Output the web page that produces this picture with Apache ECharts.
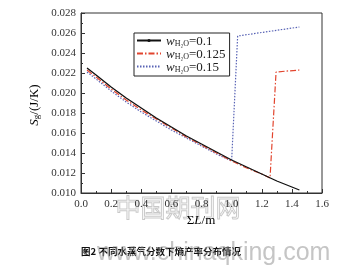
<!DOCTYPE html>
<html>
<head>
<meta charset="utf-8">
<script src="https://cdn.jsdelivr.net/npm/echarts@6/dist/echarts.min.js"></script>
<style>
html,body{margin:0;padding:0;background:#fff;}
#c{width:343px;height:267px;}
</style>
</head>
<body>
<div id="c"></div>
<script>
// ---- data ----
var xTicks = [0.0, 0.2, 0.4, 0.6, 0.8, 1.0, 1.2, 1.4, 1.6];
var yTicks = [0.010, 0.012, 0.014, 0.016, 0.018, 0.020, 0.022, 0.024, 0.026, 0.028];

var L1 = [0.04, 0.1, 0.2, 0.3, 0.4, 0.5, 0.6, 0.7, 0.8, 0.9, 1.0, 1.1, 1.2, 1.3, 1.4, 1.45];
var S1 = [0.0225, 0.0218, 0.0206, 0.0195, 0.0185, 0.0175, 0.0166, 0.0157, 0.0149, 0.0141, 0.0133, 0.0126, 0.0119, 0.0112, 0.0106, 0.0103];

var L2 = [0.04, 0.1, 0.2, 0.3, 0.4, 0.5, 0.6, 0.7, 0.8, 0.9, 1.0, 1.1, 1.2, 1.255, 1.295, 1.45];
var S2 = [0.0223, 0.0216, 0.0204, 0.0193, 0.0183, 0.0174, 0.0165, 0.0156, 0.0148, 0.0140, 0.0132, 0.0125, 0.0119, 0.0115, 0.0221, 0.0223];

var L3 = [0.04, 0.1, 0.2, 0.3, 0.4, 0.5, 0.6, 0.7, 0.8, 0.9, 1.0, 1.04, 1.45];
var S3 = [0.0221, 0.0214, 0.0202, 0.0191, 0.0181, 0.0172, 0.0163, 0.0155, 0.0147, 0.0139, 0.0132, 0.0257, 0.0266];

var seriesNames = ['0.1', '0.125', '0.15'];
var caption = '图2 不同水蒸气分数下熵产率分布情况';

function pairs(xs, ys){ return xs.map(function(x,i){ return [x, ys[i]]; }); }

var serif = '"Liberation Serif","DejaVu Serif",serif';
var chart = echarts.init(document.getElementById('c'), null, {renderer:'canvas'});

var legendRich = {
  i:{fontFamily:serif, fontStyle:'italic', fontSize:13, color:'#222', lineHeight:15, verticalAlign:'bottom'},
  s:{fontFamily:serif, fontSize:8, color:'#222', lineHeight:15, verticalAlign:'bottom', padding:[4,0,0,0]},
  n:{fontFamily:serif, fontSize:13, color:'#222', lineHeight:15, verticalAlign:'bottom'}
};

chart.setOption({
  animation:false,
  backgroundColor:'#fff',
  grid:{left:81, right:21, top:13, bottom:74, show:true, borderColor:'#333', borderWidth:1, backgroundColor:'transparent'},
  xAxis:{
    type:'value', min:0, max:1.6, interval:0.2,
    axisLine:{lineStyle:{color:'#333', width:1}},
    axisTick:{inside:true, length:4, lineStyle:{color:'#333'}},
    minorTick:{show:true, splitNumber:2, length:2, lineStyle:{color:'#333'}},
    splitLine:{show:false},
    axisLabel:{fontFamily:serif, fontSize:11, color:'#333', margin:6, formatter:function(v){return v.toFixed(1);}}
  },
  yAxis:{
    type:'value', min:0.010, max:0.028, interval:0.002,
    axisLine:{show:true, lineStyle:{color:'#333', width:1}},
    axisTick:{show:true, inside:true, length:4, lineStyle:{color:'#333'}},
    minorTick:{show:true, splitNumber:2, length:2, lineStyle:{color:'#333'}},
    splitLine:{show:false},
    axisLabel:{fontFamily:serif, fontSize:11, color:'#333', margin:5, formatter:function(v){return v.toFixed(3);}}
  },
  legend:{
    orient:'vertical', left:134, top:33,
    itemWidth:24, itemHeight:4, itemGap:0,
    padding:[2,4,2,2],
    borderColor:'#222', borderWidth:1,
    data:[
      {name:seriesNames[0]},
      {name:seriesNames[1], itemStyle:{opacity:0}},
      {name:seriesNames[2], itemStyle:{opacity:0}}
    ],
    formatter:function(n){ return '{i|w}{s|H₂O}{n|=' + n + '}'; },
    textStyle:{rich:legendRich}
  },
  series:[
    {name:seriesNames[0], type:'line', data:pairs(L1,S1), symbol:'circle', symbolSize:3, showSymbol:false,
     lineStyle:{color:'#111', width:1.3}, itemStyle:{color:'#111'}, z:3},
    {name:seriesNames[1], type:'line', data:pairs(L2,S2), symbol:'none',
     lineStyle:{color:'#e2452e', width:1.2, type:[6,2,1.5,2]}, itemStyle:{color:'#e2452e'}, z:2},
    {name:seriesNames[2], type:'line', data:pairs(L3,S3), symbol:'none',
     lineStyle:{color:'#5863b5', width:1.2, type:[1.5,1.5]}, itemStyle:{color:'#5863b5'}, z:1}
  ],
  graphic:[
    {type:'text', left:115, top:194, z:0, silent:true,
     style:{text:'中国期刊网', font:'25px "Noto Sans CJK SC"', fill:'rgba(255,255,255,0)', stroke:'rgba(120,120,120,0.4)', lineWidth:1}},
    {type:'text', x:33, y:105, rotation:Math.PI/2, silent:true,
     style:{text:'{a|S}{b|g}{c|/(J/K)}', textAlign:'center', textVerticalAlign:'middle',
       rich:{a:{fontFamily:serif, fontStyle:'italic', fontSize:13, color:'#222', lineHeight:16, verticalAlign:'bottom'},
             b:{fontFamily:serif, fontSize:9, color:'#222', lineHeight:16, verticalAlign:'bottom', padding:[4,0,0,0]},
             c:{fontFamily:serif, fontSize:13, color:'#222', lineHeight:16, verticalAlign:'bottom'}}}},
    {type:'text', x:201, y:221, silent:true,
     style:{text:'{a|Σ}{b|L}{a|/m}', textAlign:'center', textVerticalAlign:'middle',
       rich:{a:{fontFamily:serif, fontSize:13, color:'#222'}, b:{fontFamily:serif, fontStyle:'italic', fontSize:13, color:'#222'}}}},
    {type:'text', x:161, y:251, silent:true,
     style:{text:caption, textAlign:'center', textVerticalAlign:'middle', font:'bold 9.5px "Noto Sans CJK SC"', fill:'#111'}},
    {type:'text', x:97, y:253, silent:true, z:10,
     style:{text:'www.chinaqking.com', textAlign:'left', textVerticalAlign:'middle', font:'25px "Liberation Sans",Arial,sans-serif', fill:'rgba(140,140,140,0.5)'}}
  ]
});
</script>
</body>
</html>
